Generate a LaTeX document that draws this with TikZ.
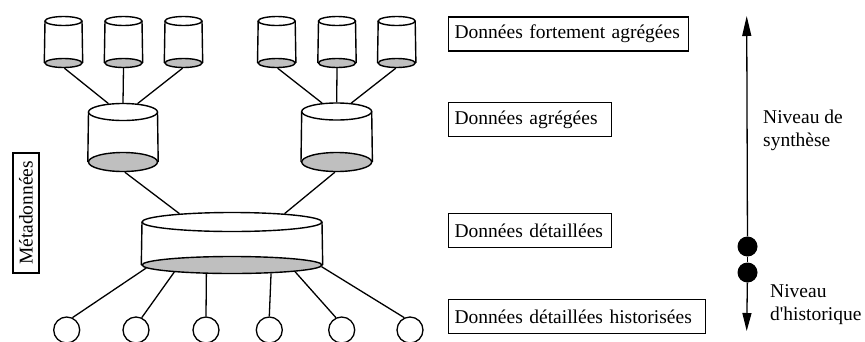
\documentclass[tikz,border=0pt]{standalone}
\usepackage{fontspec}
\setmainfont{Liberation Serif}
\usetikzlibrary{shapes.geometric,arrows.meta}

\tikzset{
  wire/.style={line width=1.3pt, black},
  lid/.style={ellipse, draw, line width=1.4pt, fill=white, inner sep=0pt},
  floor/.style={ellipse, draw, line width=1.4pt, fill=black!25, inner sep=0pt},
  leaf/.style={circle, draw, line width=1.3pt, fill=white, inner sep=0pt, minimum size=26pt},
  tag/.style={draw, line width=1.3pt, inner ysep=0pt, inner xsep=6pt, minimum height=34pt,
              anchor=west, align=left, font=\fontsize{19.5}{22}\selectfont},
  side/.style={align=left, inner sep=0pt, anchor=north west,
               font=\fontsize{19.5}{23}\selectfont},
  dot/.style={circle, fill=black, inner sep=0pt, minimum size=20pt},
}

% drum: name, centre x, top y, bottom y, half width, top half height, bottom half height
\newcommand\drum[7]{%
  \node[floor, minimum width=#5*2pt, minimum height=#7*2pt] (#1b) at (#2,#4) {};
  \draw[line width=1.4pt] (#1b.west) -- (#2-#5,#3) (#1b.east) -- (#2+#5,#3);
  \node[lid, minimum width=#5*2pt, minimum height=#6*2pt] (#1t) at (#2,#3) {};
}

\begin{document}
\begin{tikzpicture}[x=1pt, y=-1pt]
\useasboundingbox (0,0) rectangle (865,341);

% small drums, top row
\drum{s1}{63.5}{21}{63}{18.5}{4.5}{4.5}
\drum{s2}{123.5}{21}{63}{18.5}{4.5}{4.5}
\drum{s3}{183.5}{21}{63}{18.5}{4.5}{4.5}
\drum{s4}{276.7}{21}{63}{18.5}{4.5}{4.5}
\drum{s5}{337}{21}{63}{18.5}{4.5}{4.5}
\drum{s6}{396.7}{21}{63}{18.5}{4.5}{4.5}

% aggregated drums
\drum{m1}{123}{112}{162}{34.5}{8.5}{9.5}
\drum{m2}{336.7}{111.5}{162}{35}{8.5}{9.5}

% detailed drum
\drum{big}{232}{222}{265}{90}{9.5}{8.5}

% history circles
\node[leaf] (c1) at (66.7,330) {};
\node[leaf] (c2) at (136,330) {};
\node[leaf] (c3) at (206,330) {};
\node[leaf] (c4) at (269.3,330) {};
\node[leaf] (c5) at (341.7,330) {};
\node[leaf] (c6) at (410,330) {};

% links between levels
\draw[wire] (s1b.-80) -- (m1t.150);
\draw[wire] (s2b.south) -- (m1t.north);
\draw[wire] (s3b.-100) -- (m1t.30);
\draw[wire] (s4b.-80) -- (m2t.150);
\draw[wire] (s5b.south) -- (m2t.north);
\draw[wire] (s6b.-100) -- (m2t.30);

\draw[wire] (m1b.-80) -- (bigt.171);
\draw[wire] (m2b.-100) -- (bigt.9);

\draw[wire] (bigb.182) -- (c1.65);
\draw[wire] (bigb.187) -- (c2.65);
\draw[wire] (bigb.199) -- (c3.north);
\draw[wire] (bigb.348) -- (c4.north);
\draw[wire] (bigb.354) -- (c5.115);
\draw[wire] (bigb.359) -- (c6.115);

% metadata box
\node[draw, line width=1.3pt, minimum width=26pt, minimum height=120pt, inner sep=0pt]
  (meta) at (26,213) {\rotatebox{90}{\fontsize{19.5}{22}\selectfont Métadonnées}};

% level labels
\node[tag, text width=228pt] (t1) at (448,34) {Données fortement agrégées};
\node[tag, text width=151pt] (t2) at (448,119.5) {Données agrégées};
\node[tag, text width=151pt] (t3) at (448,230.5) {Données détaillées};
\node[tag, text width=245pt] (t4) at (448,316.5) {Données détaillées historisées};

% synthesis / history scale
\coordinate (up) at (746.7,16);
\coordinate (down) at (746.7,331);
\node[dot] (d1) at (747.5,246.5) {};
\node[dot] (d2) at (747.5,272.5) {};
\draw[wire, -{Triangle[width=9pt,length=20pt]}] (d1) -- (up);
\draw[wire] (d1) -- (d2);
\draw[wire, -{Triangle[width=9pt,length=18pt]}] (d2) -- (down);

\node[side] (syn) at (763,110) {Niveau de\\synthèse};
\node[side] (hist) at (770,284) {Niveau\\d\textquotesingle historique};
\end{tikzpicture}
\end{document}
